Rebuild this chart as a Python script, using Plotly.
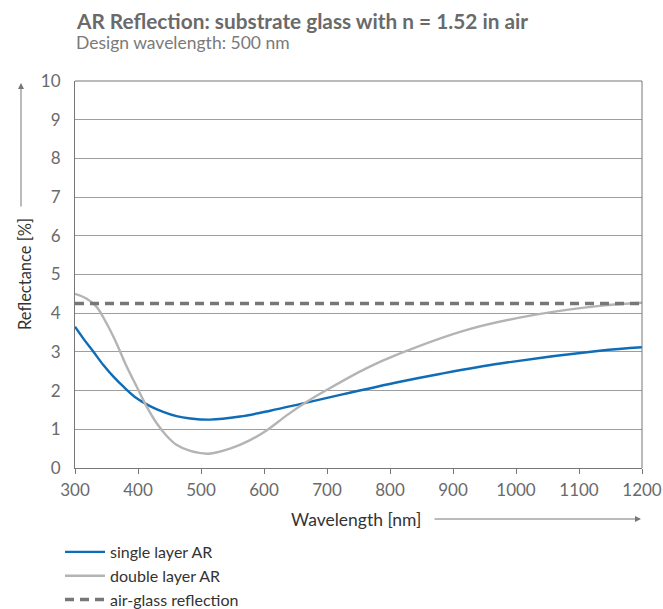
import plotly.graph_objects as go

# Data
single_wl = [300, 313, 329, 345, 361, 377, 398, 419, 440, 461, 483, 514, 562, 610, 657, 721, 816, 879, 975, 1133, 1200]
single_r = [3.65, 3.35, 3.01, 2.66, 2.36, 2.10, 1.80, 1.60, 1.45, 1.34, 1.28, 1.25, 1.33, 1.48, 1.65, 1.89, 2.23, 2.43, 2.70, 3.03, 3.12]

double_wl = [300, 318, 334, 350, 366, 382, 398, 414, 430, 446, 461, 483, 512, 546, 578, 604, 636, 668, 700, 763, 816, 922, 1027, 1133, 1200]
double_r = [4.50, 4.38, 4.17, 3.74, 3.22, 2.62, 2.10, 1.58, 1.15, 0.82, 0.60, 0.44, 0.37, 0.50, 0.72, 0.97, 1.36, 1.71, 2.02, 2.58, 2.96, 3.57, 3.95, 4.19, 4.27]

airglass_wl = [300, 1200]
airglass_r = [4.25, 4.25]

x_ticks = [300, 400, 500, 600, 700, 800, 900, 1000, 1100, 1200]
y_ticks = [0, 1, 2, 3, 4, 5, 6, 7, 8, 9, 10]

FONT = "Lato"

fig = go.Figure()
fig.add_trace(go.Scatter(x=single_wl, y=single_r, mode="lines", name="single layer AR",
                         line=dict(color="#0f6cb6", width=2.4, shape="spline", smoothing=1.0)))
fig.add_trace(go.Scatter(x=double_wl, y=double_r, mode="lines", name="double layer AR",
                         line=dict(color="#b4b4b4", width=2.4, shape="spline", smoothing=1.0)))
fig.add_trace(go.Scatter(x=airglass_wl, y=airglass_r, mode="lines", name="air-glass reflection",
                         line=dict(color="#777777", width=3.5, dash="9px,6px")))

W, H = 663, 609
L, R, T, B = 75, 21, 81, 141
pw, ph = W - L - R, H - T - B

# helpers: pixel position -> paper fraction
def px(xs):
    return (xs - L) / pw

def py(ys):
    return (H - B - ys) / ph

fig.update_layout(
    width=W, height=H,
    margin=dict(l=L, r=R, t=T, b=B, autoexpand=False),
    paper_bgcolor="white", plot_bgcolor="white",
    font=dict(family=FONT, color="#5f5f5f", size=15),
    showlegend=True,
    legend=dict(x=px(60), y=py(535), xanchor="left", yanchor="top",
                font=dict(family=FONT, size=16, color="#333333"),
                tracegroupgap=0, itemwidth=40, bgcolor="rgba(0,0,0,0)"),
    xaxis=dict(range=[300, 1200], tickvals=x_ticks, ticktext=[str(v) for v in x_ticks],
               showgrid=False, zeroline=False, showline=True, linecolor="#777777", linewidth=1,
               ticks="outside", ticklen=5, tickcolor="#777777", automargin=False,
               ticklabeloverflow="allow",
               ticklabelstandoff=2, tickfont=dict(size=17, color="#6a6a6a")),
    yaxis=dict(range=[0, 10], tickvals=y_ticks, ticktext=[str(v) for v in y_ticks],
               showgrid=True, gridcolor="#9e9e9e", gridwidth=1, zeroline=False,
               showline=True, linecolor="#777777", linewidth=1, ticks="", ticklabelstandoff=10,
               automargin=False, tickfont=dict(size=17, color="#6a6a6a")),
    shapes=[
        dict(type="line", xref="paper", yref="paper", x0=1, x1=1, y0=0, y1=1,
             line=dict(color="#777777", width=1)),
        dict(type="line", xref="paper", yref="paper", x0=0, x1=1, y0=1, y1=1,
             line=dict(color="#777777", width=1)),
    ],
    annotations=[
        dict(text="<b>AR Reflection: substrate glass with n = 1.52 in air</b>", xref="paper", yref="paper",
             x=px(74), y=py(20), xanchor="left", yanchor="middle", showarrow=False,
             font=dict(family=FONT, size=20.8, color="#6a6a6a")),
        dict(text="Design wavelength: 500 nm", xref="paper", yref="paper",
             x=px(74), y=py(42), xanchor="left", yanchor="middle", showarrow=False,
             font=dict(family=FONT, size=17.5, color="#7a7a7a")),
        dict(text="Reflectance [%]", xref="paper", yref="paper", x=px(25), y=py(274),
             xanchor="center", yanchor="middle", textangle=-90, showarrow=False,
             font=dict(family=FONT, size=16.5, color="#333333")),
        dict(text="", xref="paper", yref="paper", x=px(21), y=py(83), ax=0, ay=125,
             showarrow=True, arrowhead=2, arrowsize=1.2, arrowwidth=1, arrowcolor="#777777"),
        dict(text="Wavelength [nm]", xref="paper", yref="paper", x=px(356), y=py(519),
             xanchor="center", yanchor="middle", showarrow=False,
             font=dict(family=FONT, size=17.5, color="#333333")),
        dict(text="", xref="paper", yref="paper", x=px(641), y=py(519), ax=-208, ay=0,
             showarrow=True, arrowhead=2, arrowsize=1.2, arrowwidth=1, arrowcolor="#777777"),
    ],
)

fig.write_html("out.html", config={"displayModeBar": False},
               post_script="document.body.style.margin='0';document.body.style.overflow='hidden';")
